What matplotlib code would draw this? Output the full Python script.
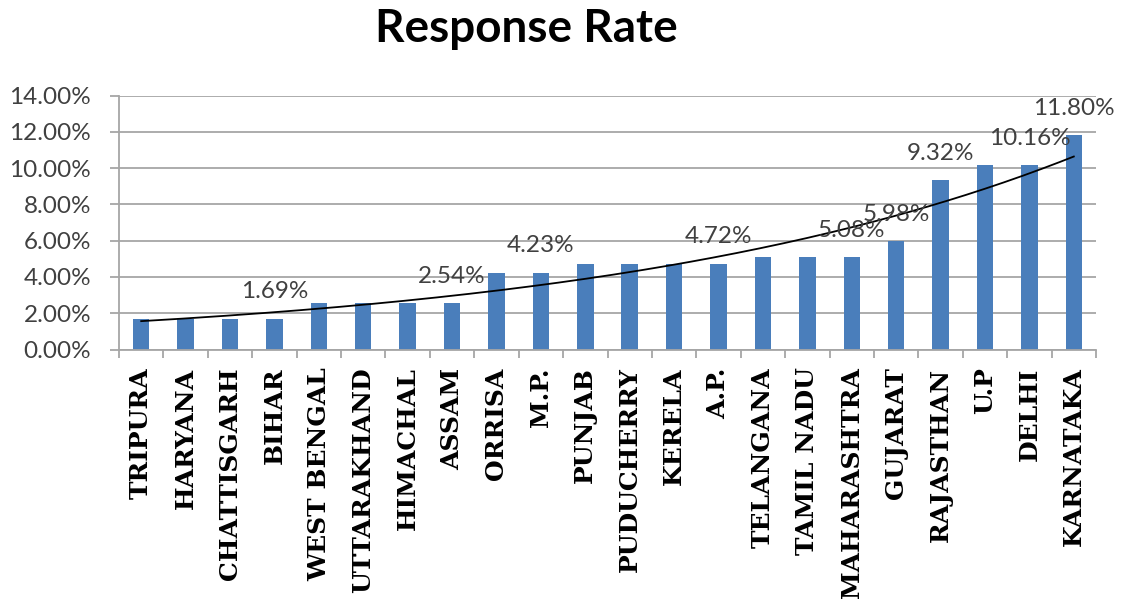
import numpy as np
import matplotlib
matplotlib.use("Agg")
import matplotlib.pyplot as plt
from matplotlib.ticker import FixedLocator, FuncFormatter

states = ["TRIPURA", "HARYANA", "CHATTISGARH", "BIHAR", "WEST BENGAL",
          "UTTARAKHAND", "HIMACHAL", "ASSAM", "ORRISA", "M.P.", "PUNJAB",
          "PUDUCHERRY", "KERELA", "A.P.", "TELANGANA", "TAMIL NADU",
          "MAHARASHTRA", "GUJARAT", "RAJASTHAN", "U.P", "DELHI", "KARNATAKA"]
rates = [1.69, 1.69, 1.69, 1.69, 2.54, 2.54, 2.54, 2.54, 4.23, 4.23, 4.72,
         4.72, 4.72, 4.72, 5.08, 5.08, 5.08, 5.98, 9.32, 10.16, 10.16, 11.80]
labelled = ["BIHAR", "ASSAM", "M.P.", "A.P.", "MAHARASHTRA", "GUJARAT",
            "RAJASTHAN", "DELHI", "KARNATAKA"]

BAR = "#4a7ebb"
GRID = "#a6a6a6"
TXT = "#404040"

fig = plt.figure(figsize=(11.22, 6.06), dpi=100, facecolor="white")
ax = fig.add_axes([119 / 1122, (606 - 349.5) / 606, 977 / 1122, 254 / 606])

x = np.arange(len(states))
ax.bar(x, rates, width=0.37, color=BAR, zorder=2)

# exponential trendline (Excel style fit on ln y)
xe = x + 1
b, a = np.polyfit(xe, np.log(rates), 1)
xs = np.linspace(xe[0], xe[-1], 200)
ax.plot(xs - 1, np.exp(a + b * xs), color="black", lw=1.3, zorder=3)

for name in labelled:
    i = states.index(name)
    ax.annotate(f"{rates[i]:.2f}%", (i, rates[i]), xytext=(0, 27),
                textcoords="offset pixels", ha="center", va="center",
                fontsize=17.5, family="Lato", color=TXT, zorder=4)

ax.set_xlim(-0.5, len(states) - 0.5)
ax.set_ylim(0, 14)
ax.set_yticks(np.arange(0, 15, 2))
ax.yaxis.set_major_formatter(FuncFormatter(lambda v, p: f"{v:.2f}%"))
ax.yaxis.grid(True, color=GRID, lw=1.3)
ax.set_axisbelow(True)

for s in ["top", "right"]:
    ax.spines[s].set_visible(False)
for s in ["left", "bottom"]:
    ax.spines[s].set_color(GRID)
    ax.spines[s].set_linewidth(1.3)

ax.tick_params(axis="y", direction="out", length=6.5, width=1.3,
               color=GRID, pad=13.5, labelsize=17.5, labelcolor=TXT)
for t in ax.get_yticklabels():
    t.set_family("Lato")

ax.set_xticks(x)
ax.set_xticklabels(states, rotation=90, family="DejaVu Serif",
                   fontweight="bold", fontsize=18, va="top", ha="center")
ax.xaxis.set_minor_locator(FixedLocator(np.arange(-0.5, len(states), 1)))
ax.tick_params(axis="x", which="major", length=0, pad=13)
ax.tick_params(axis="x", which="minor", direction="out", length=5.8,
               width=1.3, color=GRID)

fig.text(526 / 1122, 1 - 29 / 606, "Response Rate", ha="center", va="center",
         fontsize=33, family="Lato", fontweight="bold", color="black")

fig.savefig("out.png", dpi=100, facecolor="white")
